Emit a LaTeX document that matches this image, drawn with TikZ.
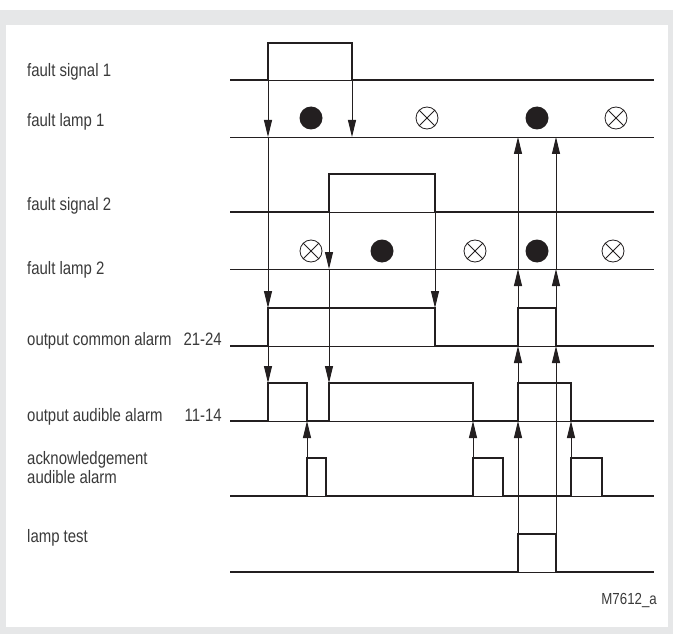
\documentclass[tikz,border=0pt]{standalone}
\usepackage{fontspec}
\setmainfont{Liberation Sans}[FakeStretch=0.83]
\usetikzlibrary{arrows.meta}
\definecolor{framegray}{HTML}{E6E7E8}
\definecolor{ink}{HTML}{231F20}
\definecolor{txt}{HTML}{3A3A3A}
\begin{document}
\begin{tikzpicture}[x=1pt,y=-1pt,
  sig/.style={line width=2.6pt,draw=ink,line join=miter},
  base/.style={line width=0.9pt,draw=ink},
  arr/.style={line width=0.9pt,draw=ink,-{Triangle[length=17pt,width=8pt]}},
  lbl/.style={anchor=base west,inner sep=0pt,text=txt,font=\fontsize{18}{20}\selectfont},
  num/.style={anchor=base east,inner sep=0pt,text=txt,font=\fontsize{18}{20}\selectfont},
  lampon/.style={circle,fill=ink,minimum size=23pt,inner sep=0pt},
  lampoff/.style={circle,draw=ink,line width=0.8pt,minimum size=22pt,inner sep=0pt,
    path picture={\draw[ink,line width=0.8pt]
      (path picture bounding box.north west) -- (path picture bounding box.south east)
      (path picture bounding box.north east) -- (path picture bounding box.south west);}}]
\useasboundingbox (0,0) rectangle (673,634);
\fill[framegray] (0,10) rectangle (673,634);
\fill[white] (6,25) rectangle (668,627);

% labels
\node[lbl] (l1) at (27,77) {fault signal 1};
\node[lbl] (l2) at (27,127) {fault lamp 1};
\node[lbl] (l3) at (27,211) {fault signal 2};
\node[lbl] (l4) at (27,274) {fault lamp 2};
\node[lbl] (l5) at (27,345) {output common alarm};
\node[num] (n5) at (222,345) {21-24};
\node[lbl] (l6) at (27,421) {output audible alarm};
\node[num] (n6) at (222,421) {11-14};
\node[lbl] (l7a) at (27,464) {acknowledgement};
\node[lbl] (l7b) at (27,483) {audible alarm};
\node[lbl] (l8) at (27,542) {lamp test};
\node[anchor=base east,inner sep=0pt,text=txt,font=\fontsize{16}{18}\selectfont] (id) at (657,604) {M7612\_a};

% thin base lines
\foreach \y in {80,137,212,269,346,421,496,572}
  \draw[base] (230,\y) -- (654,\y);

% waveforms
\draw[sig] (230,80) -| (268,43) -| (352,80) -- (654,80);
\draw[sig] (230,212) -| (329,174) -| (435,212) -- (654,212);
\draw[sig] (230,346) -| (268,308) -| (435,346) -| (518,308) -| (556,346) -- (654,346);
\draw[sig] (230,421) -| (268,383) -| (307,421) -| (329,383) -| (473,421) -| (518,383) -| (571,421) -- (654,421);
\draw[sig] (230,496) -| (307,458) -| (326,496) -| (473,458) -| (503,496) -| (571,458) -| (602,496) -- (654,496);
\draw[sig] (230,572) -| (518,534) -| (556,572) -- (654,572);

% lamp symbols
\node[lampon]  (a1) at (311,118) {};
\node[lampoff] (a2) at (427,118) {};
\node[lampon]  (a3) at (537,118) {};
\node[lampoff] (a4) at (616,118) {};
\node[lampoff] (b1) at (311,251) {};
\node[lampon]  (b2) at (382,251) {};
\node[lampoff] (b3) at (475,251) {};
\node[lampon]  (b4) at (537,251) {};
\node[lampoff] (b5) at (613,251) {};

% down arrows
\draw[arr] (268,80) -- (268,137);
\draw[arr] (268,137) -- (268,308);
\draw[arr] (268,308) -- (268,383);
\draw[arr] (352,80) -- (352,137);
\draw[arr] (329,212) -- (329,269);
\draw[arr] (329,269) -- (329,383);
\draw[arr] (435,212) -- (435,308);

% up arrows from acknowledgement
\draw[arr] (307,458) -- (307,421);
\draw[arr] (473,458) -- (473,421);
\draw[arr] (571,458) -- (571,421);

% up arrows from lamp test
\draw[arr] (518,534) -- (518,421);
\draw[arr] (518,421) -- (518,346);
\draw[arr] (518,346) -- (518,269);
\draw[arr] (518,269) -- (518,137);
\draw[arr] (556,534) -- (556,346);
\draw[arr] (556,346) -- (556,269);
\draw[arr] (556,269) -- (556,137);
\end{tikzpicture}
\end{document}
